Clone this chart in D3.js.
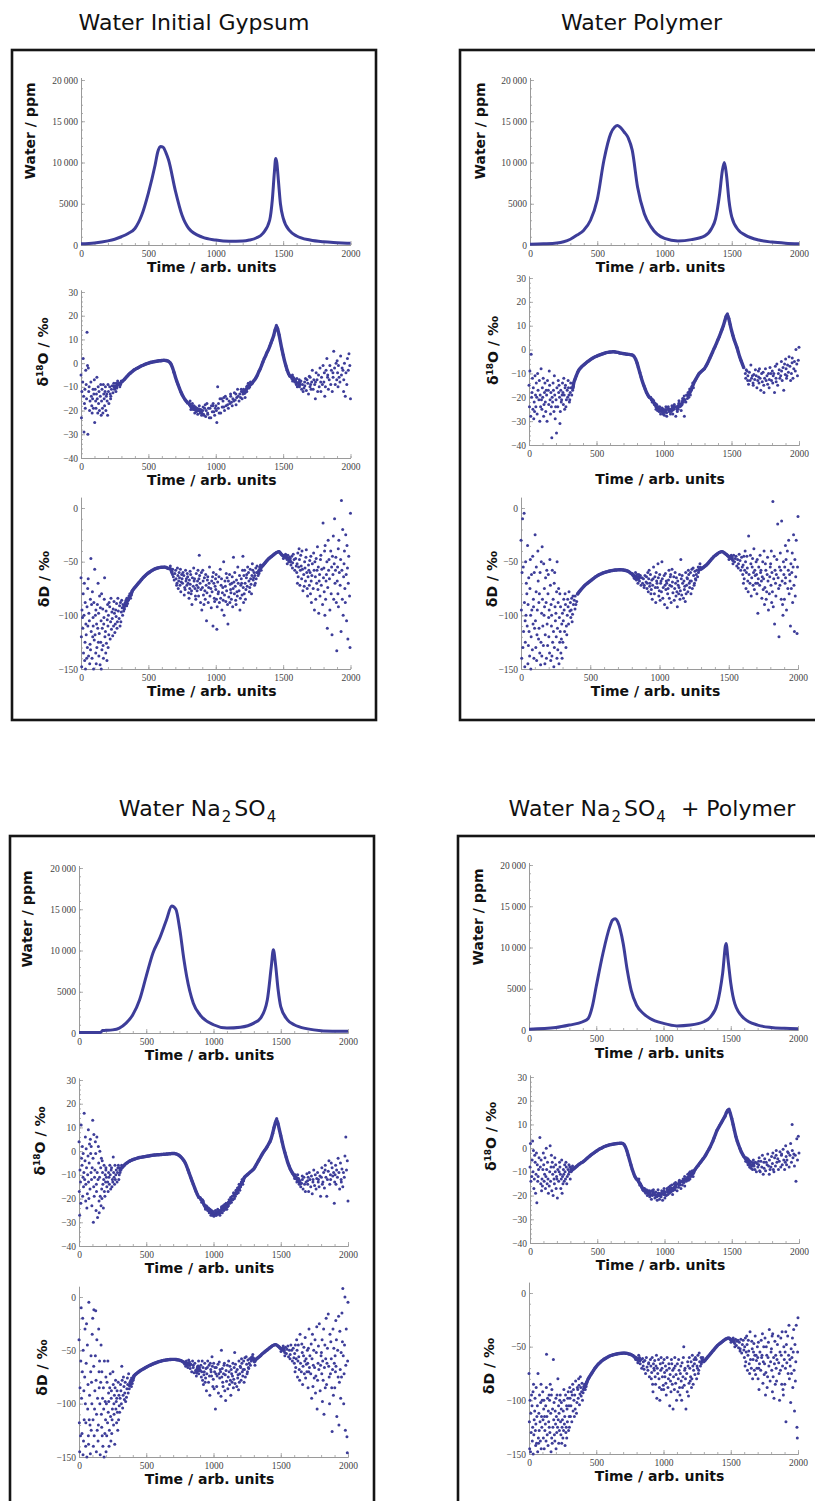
<!DOCTYPE html>
<html>
<head>
<meta charset="utf-8">
<script src="https://cdn.jsdelivr.net/npm/d3@7"></script>
<style>
body { margin: 0; background: #fff; }
</style>
</head>
<body>
<svg id="chart" width="815" height="1501"></svg>
<script>
// tick labels
var timeTicks = [0, 500, 1000, 1500, 2000]
var waterTicks = [0, 5000, 10000, 15000, 20000]
var d18OTicks = [-40, -30, -20, -10, 0, 10, 20, 30]
var dDTicks = [-150, -100, -50, 0]

// water curves, read at irregular times
var waterTimeA = [0,100,200,250,300,350,400,450,500,550,570,590,610,630,650,700,750,800,900,1000,1100,1200,1250,1300,1350,1400,1420,1435,1445,1453,1465,1480,1500,1550,1600,1700,1800,1900,2000]
var waterA = [150,250,500,700,1000,1400,2000,3600,6300,9700,11300,11950,11850,11200,10300,6600,3600,2000,950,600,450,480,600,850,1400,3000,5500,8800,10500,10000,7800,5000,3300,1700,1100,600,380,280,200]
var waterTimeB = [0,100,200,250,300,350,400,450,500,550,600,630,650,670,700,730,760,800,850,900,1000,1100,1200,1300,1350,1380,1410,1430,1445,1460,1480,1500,1550,1600,1700,1800,1900,2000]
var waterB = [100,150,250,400,700,1200,1800,3000,5500,10300,13500,14300,14500,14300,13700,13000,11500,7000,3800,2200,800,500,650,1100,2000,3200,6200,9000,10000,8600,5300,3400,1800,1200,600,350,220,150]
var waterTimeC = [0,100,160,175,200,250,300,350,400,450,500,550,600,650,690,720,750,780,800,850,900,1000,1100,1200,1300,1350,1400,1430,1445,1460,1480,1500,1550,1600,1700,1800,1900,2000]
var waterC = [50,50,60,300,320,380,600,1200,2200,4000,6900,9700,11500,13700,15400,15000,12500,8900,6900,3600,2200,1000,600,700,1200,1800,4000,8100,10100,8500,5300,3200,1600,1000,500,280,220,200]
var waterTimeD = [0,200,300,400,440,470,500,550,600,620,640,660,700,730,760,800,850,900,1000,1100,1200,1300,1350,1400,1440,1465,1480,1500,1530,1600,1700,1800,1900,2000]
var waterD = [100,300,600,1000,1400,2800,5300,9300,12500,13300,13500,13100,10500,7300,4800,3000,2000,1400,800,500,600,1000,1600,3200,6900,10500,8500,5700,3200,1400,600,300,200,150]

// isotope readings, one entry per 10 time units (0..1990); an entry may hold several points
var d18O_A = [
[-5,-23,-12],[2,-14,-8],[-29,-17,-11],[-9,-19,-3],[13,-1,-15],[-30,-2,-12],[-16,-10,-20],[-8,-14,-18],[-11,-21,-15],[-13,-7,-19],
[-25,-11,-16],[-6,-19,-13],[-21,-10,-15],[-17,-12,-20],[-9,-22,-14],[-16,-11,-19],[-13,-21,-9],[-18,-12,-15],[-10,-20,-14],[-22,-13,-16],
[-12,-17,-9],[-15,-10,-13],[-11,-14],[-9.5,-12.5],[-11,-8.5],[-10,-12],[-8.5,-10.5],[-9,-7.5],[-8.5,-10],[-7.5,-9],
-8,-7.5,-7,-6.3,-5.7,-5,-4.5,-4,-3.5,-3,
-2.7,-2.3,-2,-1.7,-1.4,-1.1,-0.9,-0.6,-0.4,-0.2,
0,0.2,0.4,0.5,0.6,0.7,0.8,0.9,1,1,
1.1,1.2,1.2,1.1,1,0.8,0.3,-0.6,-2,-3.8,
-5.8,-7.5,-9,-10.5,-12,-13.2,-14.3,-15.2,-16,-16.8,
[-17.5,-16],[-18,-19.5],[-17,-19],[-19.5,-18],[-18.5,-21],[-20.5,-19],[-19,-21.5],[-18,-20],[-21,-19.5],[-20,-22],
[-18.5,-21.5,-20],[-22,-19],[-20,-17.5,-22.5],[-17,-21],[-21.5,-19],[-19,-23],[-23,-18],[-18,-20.5],[-20.5,-17],[-22,-19],
[-25,-18,-20],[-10,-19],[-17,-21],[-21,-15],[-15,-18.5],[-18.5,-16],[-20,-14.5],[-14,-18],[-17.5,-15],[-19,-16],
[-13,-17],[-16.5,-14],[-18,-15],[-12.5,-16],[-15.5,-13],[-17.5,-14.5],[-14,-11],[-16,-13],[-11,-14.5],[-15,-12],
[-13,-11],[-14.5,-12],[-11.5,-10],[-12,-9.5],[-10.5,-8.5],[-10,-8],-9,-8.5,-7.5,-7,
-6,-5,-3.5,-2.5,-1,0.5,2,3,4.5,5.5,
7,8.5,10,11.5,14,16,14.5,12,9,6,
3.5,1,-1,-3,-4.5,-5.5,[-6.5,-5],[-7.5,-6],[-8,-6.5],[-7,-9],
[-8.5,-6.5,-10],[-9.5,-7],[-10,-8],[-11,-7.5],[-9,-12],[-8,-10.5],[-6.5,-9.5],[-11.5,-7],[-13,-8.5],[-5.5,-10],
[-6,-9,-11],[-3,-8],[-11,-7],[-15,-9],[-4,-8],[-7,-12],[-10,-5],[-2,-8],[-12,-6],[-1,-9],
[-8,-4,-14],[-3,-10],[2,-6],[-5,-11],[-1,-7],[-9,-3],[-4,-12],[5,-6],[-2,-9],[-7,0],
[-4,-10,1],[-1,-6],[3,-8],[-5,-2],[-12,-3],[0,-7],[-14,-4],[2,-9],[-3,4],[-15,-1]
]
var d18O_B = [
[-15,-24,-9],[-2,-20,-28],[-18,-12,-25],[-22,-16,-29],[-11,-19,-26],[-24,-14,-20],[-17,-27,-10],[-21,-13,-30],[-8,-19,-24],[-25,-16,-21],
[-20,-12,-28],[-14,-23,-18],[-26,-17,-22],[-19,-30,-13],[-23,-9,-17],[-15,-21,-27],[-37,-18,-24],[-22,-14,-20],[-17,-26,-11],[-24,-19,-29],
[-35,-16,-21],[-18,-24,-13],[-20,-31,-15],[-26,-17,-22],[-14,-21,-19],[-23,-12,-18],[-19,-25,-16],[-21,-15,-24],[-17,-20,-13],[-22,-16,-19],
[-18,-14,-21],[-16,-19],[-15.5,-17],-14,-12.5,-11,-9.5,-8.5,-7.8,-7.2,
-6.7,-6.2,-5.7,-5.2,-4.8,-4.4,-4,-3.6,-3.3,-3,
-2.8,-2.5,-2.3,-2.1,-1.9,-1.7,-1.5,-1.3,-1.2,-1.1,
-1,-1,-0.9,-0.9,-1,-1.1,-1.2,-1.4,-1.5,-1.6,
-1.7,-1.8,-1.9,-2,-2,-2.1,-2.2,-2.4,-3,-4,
-5.5,-7.5,-9.5,-11.5,-13.5,-15,-16.5,-18,-19,-20,
[-21,-20],[-22,-21],[-23,-21.5],[-22.5,-24],[-25,-23],[-24,-25.5],[-26,-24],[-25,-27],[-24.5,-26],[-27,-25],
[-25.5,-27.5],[-24,-26.5],[-28,-25],[-26,-24],[-25,-27],[-23.5,-26],[-27,-24.5],[-25,-23],[-28,-24],[-24,-26],
[-22.5,-25],[-24,-21.5],[-23,-25.5],[-20.5,-23],[-22,-19.5],[-28,-21],[-19,-22],[-20.5,-18],[-17.5,-20],[-19,-16.5],
[-17,-15.5],[-16,-14],-14,-13,-12,-11,-10,-9.5,-9,-8.5,
-8,-7,-6,-4.8,-3.5,-2.3,-1,0.3,1.5,2.8,
4.2,5.5,7,8.5,10,12,14,15,13,10.5,
8,6,4,2.5,1,-1,-3,-4.5,-6,-7.5,
[-8.5,-10,-12],[-9,-13],[-11,-14.5],[-13,-9.5],[-6.5,-12],[-14,-11],[-10.5,-15],[-12.5,-8.5],[-16,-11],[-13,-9],
[-11.5,-14,-8],[-17,-12],[-10,-13.5],[-15,-9.5],[-12,-18],[-8,-13],[-14.5,-11],[-10,-16],[-12.5,-7.5],[-13,-10],
[-9,-14,-11],[-18,-10],[-7,-12],[-13.5,-6],[-10,-15],[-8.5,-12],[-5,-11],[-13,-9],[-7.5,-17],[-10.5,-6],
[-8,-12,-4],[-11,-6.5],[-3,-9.5],[-7,-13],[-5.5,-10],[-12,-3.5],[-8,-5],[0,-9],[-6,-11],[1,-4.5]
]
var d18O_C = [
[4,-17,-27,-8],[11,-3,-13,-22],[-6,2,-19,-11],[16,-1,-15,-9],[-4,6,-21,-12],[-14,1,-7,-24],[-2,9,-18,-10],[-20,-5,3,-13],[-9,-16,5,-1],[-23,-7,2,-12],
[13,-3,-30,-15],[-8,7,-19,-11],[-1,-25,-14,4],[-17,6,-9,-28],[-5,-21,-12,2],[-11,0,-19,-26],[-16,-7,-23,-3],[-9,-14,-20,-4],[-24,-12,-6,-17],[-13,-8,-19,-10],
[-11,-15,-7],[-9,-13,-17],[-14,-6,-11],[-10,-16,-8],[-12,-7,-15],[-2.5,-9,-13],[-11,-14,-6],[-8,-12,-10],[-13,-9,-7],[-10,-6,-12],
[-9,-7],[-8,-6],-7,-6.3,-5.7,-5.2,-4.8,-4.4,-4.1,-3.8,
-3.6,-3.4,-3.2,-3,-2.8,-2.7,-2.6,-2.5,-2.4,-2.3,
-2.2,-2.1,-2,-1.9,-1.8,-1.7,-1.6,-1.6,-1.5,-1.5,
-1.5,-1.4,-1.4,-1.3,-1.3,-1.2,-1.2,-1.1,-1.1,-1,
-1,-1,-1.1,-1.3,-1.6,-2,-2.6,-3.2,-4,-5,
-6.3,-7.8,-9.4,-11,-12.5,-14,-15.5,-17,-18.3,-19.5,
[-20.5,-19.5],[-21.5,-20.5],[-22.5,-21],[-23,-24],[-24.5,-23],[-25,-23.5],[-24,-26],[-26,-24.5],[-25,-27],[-27,-25.5],
[-26,-27.5],[-25,-27],[-27,-25.5],[-26.5,-24.5],[-25,-27],[-24,-26],[-26,-23.5],[-23,-25],[-24.5,-22.5],[-22,-24.5],
[-21.5,-23.5],[-20.5,-23],[-22,-19.5],[-19,-21.5],[-20.5,-17.5],[-18,-20],[-16.5,-19],[-18,-15.5],[-15,-17.5],[-16.5,-14],
[-15,-13],[-14,-12],[-12.5,-11],-11,-10.5,-10,-9.5,-9,-8.5,-8,
-7.5,-6.5,-5.5,-4.5,-3.5,-2.5,-1.5,-0.5,0.3,1,
2,3,4,5.5,7.5,10,12,13.8,11.5,9,
6.5,4,1.5,-0.5,-2.5,-4.5,-6,-7.5,-8.5,-9.5,
[-10,-11.5],[-11,-13],[-12,-10],[-14,-11.5],[-12.5,-15],[-10.5,-13.5],[-16,-12],[-11,-14],[-13,-17],[-9.5,-12.5],
[-14,-11,-17],[-12,-9],[-15,-10.5],[-13,-18],[-8,-12],[-14.5,-10],[-11.5,-16],[-9,-13],[-12,-15],[-19,-10.5],
[-11,-7,-14],[-9,-13],[-15.5,-8],[-6,-11],[-12,-19],[-8.5,-4],[-10,-14],[-5,-12],[-7,-10.5],[-22,-9],
[-10,-6,-13],[-14,-8],[-3,-11],[-9,-16],[-12,-5],[-7.5,-13],[-15,-9],[-2,-11],[6,-8],[-21,-4]
]
var d18O_D = [
[-8,2,-14],[-5,3,-12],[-10,-1,-17],[-6,-13,-3],[-11,-2,-19],[-23,-7,-14],[-4,-12,-9],[4.5,-8,-15],[-13,-5,-18],[-9,-2,-16],
[-7,-14,-11],[-12,-4,-17],[-9,-15,0],[-6,-13,-19],[-10,1,-16],[-14,-8,-3],[-11,-18,-6],[-8,-13,-20],[-15,-4,-10],[-12,-7,-17],
[-21,-9,-13],[-6,-14,-10],[-11,-17,-8],[-13,-5,-19],[-9,-12,-15],[-14,-7,-11],[-10,-13,-6],[-12,-8,-15],[-9,-11,-7],[-13,-10,-8],
[-10,-8],[-9.5,-7.5],-9,-8.5,-8,-7.5,-7,-6.6,-6.2,-5.9,
-5.5,-5,-4.5,-4,-3.5,-3,-2.6,-2.2,-1.8,-1.4,
-1,-0.6,-0.3,0,0.3,0.6,0.8,1,1.2,1.4,
1.5,1.6,1.7,1.8,1.9,2,2,2.1,2.1,2,
1.5,0.5,-1,-3,-5,-7,-9,-10.5,-12,-13,
[-14,-13],[-14.5,-15.5],[-16,-15],[-16.5,-17.5],[-17,-18],[-18.5,-17],[-19,-17.5],[-18,-20],[-19.5,-18],[-20.5,-18.5],
[-18,-20,-21.5],[-19.5,-17.5],[-21,-19],[-18.5,-20.5],[-20,-22],[-19,-17.5],[-21.5,-19.5],[-18,-20.5],[-22,-19],[-19.5,-17],
[-18.5,-21],[-20,-17],[-17.5,-19.5],[-19,-16.5],[-16,-18.5],[-18,-15.5],[-17,-19.5],[-15,-17.5],[-16.5,-14.5],[-18,-15],
[-14,-16.5],[-15.5,-13.5],[-17,-14],[-13,-15.5],[-14.5,-12],[-16,-13],[-12.5,-14],[-11,-13.5],[-13,-10.5],[-12,-10],
[-11.5,-9.5],[-10,-12],-9.5,-8.8,-8,-7.3,-6.5,-5.8,-5,-4.3,
-3.5,-2.5,-1.5,-0.5,0.5,1.8,3,4.5,6,7.5,
8.5,9.5,10.5,11.5,12.5,13.5,15,16,16.5,14.5,
12.5,10,7.5,5,3,1.5,0,-1.5,-2.5,-3.5,
[-4,-5.5],[-6,-4.5],[-7,-5],[-5.5,-8],[-8.5,-6],[-6.5,-9],[-7.5,-5],[-9,-6],[-6.5,-10],[-8,-5.5],
[-7,-4,-9.5],[-5.5,-10],[-8,-3],[-6,-11],[-4.5,-8.5],[-9.5,-6],[-2.5,-7],[-7.5,-11],[-5,-9],[-3.5,-8],
[-6.5,-2,-9],[-4,-10],[-7.5,-3],[-1,-6],[-9,-4.5],[-5.5,-1.5],[-3,-8],[-7,-2.5],[-0.5,-5],[-6,-9],
[-3.5,-7,1],[-5,-1.5],[-8,-2],[-3,2],[10,-6],[-4,-1],[-2.5,-7.5],[-14,-3],[4,-5],[-2,5]
]
var dD_A = [
[-65,-120,-148,-95],[-80,-135,-102,-112],[-100,-70,-142,-125],[-118,-88,-150,-108],[-92,-130,-75,-140],[-110,-66,-138,-98],[-127,-85,-105,-145],[-47,-115,-90,-132],[-102,-140,-78,-120],[-88,-123,-110,-150],
[-57,-118,-100,-135],[-130,-95,-145,-108],[-112,-70,-125,-90],[-98,-138,-117,-82],[-125,-105,-146,-93],[-80,-132,-112,-150],[-108,-94,-128,-140],[-65,-120,-102,-85],[-115,-135,-96,-126],[-90,-110,-142,-104],
[-100,-118,-88,-130],[-106,-92,-122],[-113,-97,-84],[-103,-119,-94],[-98,-110,-87],[-108,-95,-116],[-101,-89,-112],[-96,-106,-84],[-103,-91,-110],[-97,-88,-106],
[-93,-100,-86],[-90,-96],[-88,-94],[-86,-91],[-84,-89],[-82,-86],[-80,-84],[-78,-81],-77,-75.5,
-74,-72.5,-71,-69.5,-68,-66.5,-65,-63.8,-62.6,-61.5,
-60.5,-59.6,-58.8,-58,-57.3,-56.7,-56.2,-55.8,-55.5,-55.3,
-55.2,-55.1,-55,-55.3,-55.8,-56.5,[-57.5,-54],[-59,-62],[-57,-64],[-61,-67],
[-58,-66,-72],[-63,-70,-56],[-68,-60,-75],[-65,-72,-57],[-62,-78,-69],[-70,-60,-66],[-74,-63,-81],[-58,-68,-76],[-66,-72,-61],[-79,-64,-70],
[-67,-75,-59,-84],[-71,-62,-80],[-65,-77,-90],[-73,-56,-68],[-82,-66,-75],[-61,-72,-85],[-77,-68,-58],[-44,-74,-82,-66],[-70,-88,-63],[-76,-60,-95],
[-68,-81,-74,-58],[-90,-65,-77],[-72,-85,-62],[-79,-67,-105],[-64,-88,-74],[-82,-70,-55],[-75,-93,-68],[-110,-78,-64],[-70,-84,-60],[-87,-73,-66],
[-113,-76,-62,-85],[-69,-80,-92],[-78,-64,-88],[-84,-72,-57],[-66,-95,-79],[-50,-74,-86],[-81,-68,-100],[-73,-87,-61],[-90,-77,-65],[-68,-83,-108],
[-76,-62,-88,-71],[-85,-70,-79],[-64,-92,-75],[-80,-46,-69],[-73,-86,-60],[-90,-67,-78],[-70,-82,-55],[-77,-63,-95],[-66,-84,-72],[-81,-58,-70],
[-45,-74,-88,-63],[-70,-80,-58],[-76,-65,-85],[-62,-73,-55],[-68,-78,-60],[-74,-57,-66],[-63,-71,-80],[-58,-67,-52],[-65,-60,-72],[-56,-63,-70],
[-60,-54,-66],[-58,-63],[-55,-61],[-53,-58],-55,-53.5,-52,-50.5,-49,-47.5,
-46.5,-45.5,-44.5,-43.5,-42.5,-41.5,-41,-40.5,-42,-43.5,
[-44,-47],[-46,-43],[-48,-45],[-44,-52],[-50,-46],[-53,-47],[-45,-56],[-51,-43],[-58,-48],[-47,-54],
[-42,-60,-52,-70],[-55,-38,-64],[-48,-72,-58],[-66,-44,-54],[-57,-77,-40],[-50,-62,-73],[-68,-46,-56],[-39,-60,-75],[-53,-82,-64],[-72,-49,-58],
[-60,-80,-45,-68],[-52,-88,-63],[-75,-42,-58],[-64,-95,-50],[-47,-70,-85],[-58,-36,-76],[-68,-55,-98],[-82,-48,-62],[-44,-72,-57],[-14,-65,-90],
[-56,-78,-40,-100],[-68,-35,-85],[-50,-112,-62],[-74,-30,-58],[-95,-48,-66],[-40,-80,-55],[-62,-118,-45],[-85,-52,-26],[-10,-70,-58],[-133,-46,-88],
[-55,-80,-38,-68],[-92,-30,-60],[-48,-115,-72],[7,-58,-85],[-64,-20,-100],[-40,-75,-52],[-88,-25,-62],[-56,-105,-35],[-70,-45,-122],[-5,-82,-130]
]
var dD_B = [
[-30,-95,-140,-60],[-55,-115,-10,-130],[-5,-88,-148,-105],[-70,-125,-50,-100],[-110,-35,-145,-80],[-90,-128,-65,-115],[-48,-100,-138,-75],[-120,-62,-95,-150],[-85,-132,-45,-108],[-60,-112,-92,-140],
[-25,-105,-130,-78],[-95,-55,-142,-118],[-68,-122,-88,-40],[-112,-80,-135,-60],[-50,-98,-146,-125],[-36,-85,-110,-138],[-75,-128,-52,-100],[-118,-65,-92,-145],[-88,-140,-58,-108],[-62,-102,-128,-80],
[-95,-135,-48,-120],[-110,-72,-142,-90],[-58,-125,-100,-138],[-85,-115,-148,-70],[-105,-130,-60,-92],[-120,-78,-140,-98],[-50,-112,-132,-88],[-102,-125,-75,-145],[-115,-92,-135,-80],[-98,-122,-108,-140],
[-105,-85,-125],[-95,-115,-80],[-110,-90,-130],[-100,-85,-118],[-92,-108,-78],[-88,-102,-96],[-95,-84,-106],[-90,-99,-82],[-86,-94],[-82,-90],
[-80,-87],-80,-78,-76.5,-75,-73.5,-72.2,-71,-70,-69,
-68,-67,-66,-65,-64,-63.2,-62.5,-61.8,-61.2,-60.6,
-60.2,-59.8,-59.4,-59,-58.7,-58.4,-58.2,-58,-57.8,-57.7,
-57.6,-57.5,-57.5,-57.6,-57.8,-58,-58.3,-58.8,-59.5,-60.5,
[-61,-63],[-62,-65],[-60,-66],[-67,-62],[-64,-70],[-68,-62],[-63,-72],[-70,-65],[-66,-74],[-72,-63],
[-64,-75,-69],[-70,-60,-78],[-73,-66,-58],[-62,-80,-70],[-76,-67,-85],[-55,-72,-66],[-80,-64,-74],[-68,-88,-60],[-74,-52,-70],[-65,-82,-77],
[-70,-62,-86],[-78,-50,-68],[-66,-84,-74],[-90,-72,-63],[-61,-76,-68],[-80,-70,-93],[-67,-58,-75],[-84,-72,-64],[-73,-62,-88],[-69,-79,-57],
[-75,-64,-86],[-70,-82,-60],[-65,-78,-92],[-80,-68,-72],[-62,-85,-74],[-77,-48,-66],[-70,-81,-63],[-84,-68,-76],[-60,-73,-87],[-72,-65,-80],
[-66,-78,-58],[-74,-62,-70],[-60,-80,-68],[-68,-57,-75],[-63,-72,-56],[-70,-59,-66],[-58,-67,-62],[-64,-55],[-60,-56],[-57,-52],
-57,-56,-55,-54,-53,-51.5,-50,-48.5,-47,-45.5,
-44.5,-43.5,-42.5,-41.5,-41,-40.5,-41,-42,-43,-44,
[-45,-48],[-47,-44],[-49,-46],[-44,-52],[-50,-47],[-54,-45],[-48,-56],[-52,-43],[-58,-49],[-46,-55],
[-45,-62,-53,-70],[-58,-40,-66],[-50,-75,-60],[-68,-45,-56],[-26,-62,-78],[-52,-70,-44],[-65,-55,-82],[-47,-72,-60],[-58,-38,-76],[-70,-50,-63],
[-62,-80,-48,-70],[-55,-98,-66],[-72,-44,-60],[-84,-58,-68],[-50,-76,-64],[-66,-40,-90],[-58,-74,-52],[-78,-62,-85],[-46,-68,-95],[-64,-55,-80],
[-52,-72,-40,-88],[6,-60,-78],[-66,-45,-92],[-108,-58,-70],[-48,-82,-62],[-15,-65,-75],[-72,-120,-55],[-58,-85,-42],[-12,-68,-90],[-62,-100,-50],
[-55,-70,-35,-85],[-65,-48,-95],[-75,-58,-40],[-30,-80,-62],[-52,-68,-110],[-60,-42,-75],[-88,-55,-25],[-48,-72,-115],[-64,-30,-82],[-8,-117,-55]
]
var dD_C = [
[-40,-118,-145,-85],[-10,-95,-130,-60],[-128,-70,-20,-148],[-115,-50,-135,-88],[-30,-100,-140,-75],[-118,-62,-25,-150],[-82,-130,-45,-105],[-5,-115,-92,-138],[-55,-120,-147,-70],[-100,-35,-125,-80],
[-20,-115,-140,-65],[-88,-12,-130,-105],[-13,-78,-145,-55],[-110,-40,-125,-95],[-30,-70,-135,-120],[-60,-100,-148,-85],[-122,-80,-45,-110],[-95,-140,-70,-130],[-85,-105,-150,-60],[-115,-75,-128,-98],
[-100,-130,-80,-145],[-90,-118,-60,-108],[-125,-85,-98,-140],[-72,-112,-135,-95],[-105,-88,-128,-115],[-82,-120,-100,-70],[-110,-92,-138,-85],[-98,-118,-78,-105],[-88,-108,-125,-95],[-102,-80,-115,-92],
[-95,-82,-108],[-88,-100,-65],[-92,-78,-104],[-84,-96,-75],[-90,-80,-98],[-86,-76,-94],[-82,-90,-72],[-80,-86],[-78,-84],[-76,-81],
[-74,-78],-73.5,-72.5,-71.5,-70.5,-69.5,-68.7,-68,-67.2,-66.5,
-65.8,-65.1,-64.5,-63.9,-63.3,-62.7,-62.2,-61.7,-61.2,-60.8,
-60.4,-60,-59.7,-59.4,-59.2,-59,-58.8,-58.7,-58.6,-58.5,
-58.5,-58.5,-58.6,-58.8,-59,-59.3,-59.8,-60.5,[-61,-63],[-60,-65],
[-62,-66],[-64,-59],[-67,-61],[-63,-70],[-66,-60],[-71,-64],[-62,-69],[-68,-74],[-65,-60],[-72,-66],
[-64,-75,-69],[-70,-60,-78],[-73,-66,-82],[-62,-80,-70],[-76,-67,-88],[-60,-72,-66],[-80,-64,-74],[-68,-92,-62],[-74,-56,-70],[-65,-84,-77],
[-70,-62,-86],[-105,-72,-66],[-66,-84,-74],[-90,-72,-63],[-61,-76,-68],[-50,-70,-93],[-67,-80,-75],[-84,-72,-64],[-73,-62,-88],[-69,-79,-97],
[-75,-64,-86],[-70,-82,-60],[-65,-78,-92],[-80,-68,-72],[-62,-85,-74],[-77,-66,-52],[-70,-81,-63],[-84,-68,-76],[-60,-73,-87],[-72,-65,-80],
[-66,-78,-58],[-74,-62,-70],[-60,-80,-68],[-68,-57,-75],[-63,-72,-56],[-70,-59,-66],[-58,-67,-62],[-64,-57],[-60,-56],[-58,-54],
[-60,-64],-59,-58,-57,-56,-55,-53.5,-52.5,-51.5,-50.5,
-49.5,-48.5,-47.5,-46.5,-45.5,-45,-44.5,-45,-46,-47,
[-48,-51],[-50,-46],[-52,-48],[-47,-55],[-53,-49],[-56,-46],[-50,-58],[-54,-45],[-60,-50],[-48,-57],
[-45,-62,-53,-70],[-58,-40,-66],[-50,-75,-60],[-68,-45,-56],[-35,-62,-78],[-52,-70,-44],[-65,-55,-82],[-47,-72,-60],[-58,-38,-76],[-70,-50,-63],
[-62,-85,-48,-70],[-55,-30,-66],[-72,-44,-95],[-84,-58,-35],[-50,-76,-64],[-66,-40,-90],[-28,-74,-52],[-78,-62,-105],[-46,-68,-25],[-64,-55,-88],
[-52,-72,-40,-98],[-30,-60,-78],[-66,-45,-110],[-85,-58,-20],[-48,-82,-62],[-16,-65,-75],[-72,-100,-35],[-58,-85,-42],[-126,-68,-30],[-62,-92,-48],
[-55,-70,-22,-85],[-65,-40,-112],[-75,-18,-50],[-120,-80,-32],[-52,-68,-95],[-15,-42,-75],[8,-55,-100],[0,-72,-45],[-64,-30,-125],[-5,-131,-146,-60]
]
var dD_D = [
[-75,-120,-145,-100],[-130,-95,-148,-112],[-105,-138,-125,-92],[-118,-150,-85,-132],[-98,-128,-142,-110],[-122,-88,-140,-115],[-75,-135,-105,-148],[-112,-128,-95,-140],[-85,-120,-138,-102],[-125,-100,-145,-115],
[-92,-118,-135,-108],[-128,-100,-145,-115],[-105,-138,-88,-122],[-57,-115,-132,-98],[-120,-95,-142,-110],[-100,-130,-85,-125],[-135,-112,-148,-95],[-108,-125,-90,-140],[-62,-118,-102,-132],[-122,-98,-138,-110],
[-115,-130,-95,-145],[-105,-125,-80,-118],[-128,-100,-140,-112],[-95,-120,-132,-108],[-118,-102,-140,-125],[-110,-128,-90,-135],[-100,-122,-115,-142],[-125,-105,-95,-130],[-108,-120,-98,-135],[-115,-92,-128,-105],
[-98,-115,-125,-88],[-105,-92,-120],[-110,-95,-85],[-100,-115,-90],[-95,-108,-82],[-102,-88,-112],[-90,-98,-80],[-94,-86,-104],[-88,-96,-78],[-92,-84,-100],
[-87,-93],[-85,-90],[-83,-87],-83,-80,-78,-76,-74,-72,-70,
-68.5,-67,-65.7,-64.5,-63.4,-62.4,-61.5,-60.7,-60,-59.3,
-58.7,-58.2,-57.8,-57.4,-57.1,-56.8,-56.6,-56.4,-56.2,-56.1,
-56,-56,-56.1,-56.3,-56.6,-57,-57.5,-58,-59,[-60,-62],
[-61,-65],[-63,-58],[-66,-60],[-62,-70],[-68,-61],[-71,-64],[-63,-75],[-69,-60],[-72,-66],[-65,-78],
[-68,-80,-62],[-74,-60,-85],[-70,-92,-66],[-63,-78,-72],[-85,-68,-58],[-75,-98,-70],[-62,-80,-88],[-72,-100,-66],[-90,-70,-60],[-78,-65,-86],
[-74,-90,-62],[-68,-84,-78],[-95,-72,-60],[-80,-66,-88],[-70,-105,-76],[-62,-82,-92],[-85,-72,-66],[-108,-78,-70],[-68,-90,-60],[-76,-100,-84],
[-80,-66,-92],[-72,-88,-62],[-95,-75,-68],[-65,-82,-100],[-78,-60,-88],[-50,-86,-72],[-108,-70,-80],[-75,-92,-64],[-84,-68,-96],[-70,-82,-60],
[-78,-64,-88],[-68,-80,-58],[-72,-62,-85],[-66,-76,-60],[-80,-68,-62],[-70,-58,-75],[-64,-72,-56],[-68,-60],[-66,-62],[-64,-60],
-64,-62.5,-61,-59.5,-58,-56.5,-55,-53.5,-52,-50.5,
-49,-48,-47,-46,-45,-44,-43,-42.5,-42,-42,
[-43,-46],[-45,-42],[-47,-44],[-43,-50],[-49,-45],[-51,-44],[-46,-54],[-52,-43],[-48,-56],[-44,-53],
[-42,-60,-50,-68],[-55,-40,-64],[-48,-72,-58],[-66,-44,-54],[-36,-62,-75],[-52,-70,-45],[-62,-55,-80],[-47,-72,-58],[-58,-40,-76],[-70,-50,-63],
[-60,-80,-46,-70],[-55,-90,-66],[-72,-44,-60],[-84,-58,-38],[-50,-76,-64],[-66,-42,-95],[-58,-74,-50],[-78,-60,-88],[-46,-68,-34],[-64,-55,-82],
[-52,-72,-40,-92],[-60,-38,-78],[-66,-45,-98],[-85,-58,-70],[-48,-82,-62],[-40,-65,-75],[-72,-100,-55],[-58,-85,-42],[-36,-68,-90],[-62,-95,-50],
[-55,-70,-36,-85],[-120,-48,-65],[-75,-58,-40],[-30,-80,-62],[-52,-68,-102],[-60,-42,-75],[-88,-55,-34],[-48,-72,-110],[-64,-30,-82],[-23,-125,-135,-55]
]

var svg = d3.select("#chart")
var blue = "#3d3d99"
var sans = "'DejaVu Sans', Verdana, sans-serif"
var serif = "'Liberation Serif', 'Times New Roman', serif"

function fmt(v) {
	var s = String(Math.abs(v))
	if (Math.abs(v) >= 10000) { s = s.slice(0, -3) + "\u2009" + s.slice(-3) }
	return (v < 0 ? "\u2212" : "") + s
}

// place the several readings of one 10-unit step inside that step,
// shifted from step to step so they do not line up in columns
function expand(values) {
	var pts = []
	values.forEach(function(v, i) {
		var ys = Array.isArray(v) ? v : [v]
		ys.forEach(function(y, j) {
			var off = ys.length == 1 ? 0 : ((i * 0.618 + j / ys.length) % 1) * 10
			pts.push({ t : i * 10 + off, v : y })
		})
	})
	return pts
}

// where the readings of a step lie close together (within maxGap px) they form a dense band
function runs(values, y, maxGap) {
	var out = [], cur = []
	values.forEach(function(v, i) {
		var ys = Array.isArray(v) ? v : [v]
		var ext = d3.extent(ys)
		if (ys.length > 2 || Math.abs(y(ext[0]) - y(ext[1])) > maxGap) {
			if (cur.length > 1) { out.push(cur) }
			cur = []
		} else {
			cur.push({ t : i * 10 + (ys.length == 1 ? 0 : 5), v : d3.mean(ys) })
		}
	})
	if (cur.length > 1) { out.push(cur) }
	return out
}

function addText(parent, parts, size, weight) {
	var t = parent.append("text").attr("font-family", sans).attr("font-size", size)
			.attr("font-weight", weight).attr("fill", "#111")
	parts.forEach(function(p) {
		t.append("tspan").attr("dy", p.dy || 0).attr("dx", p.dx || 0)
				.attr("font-size", p.size || size).text(p.text)
	})
	return t
}

var kinds = {
	water : { min : 0, max : 20000, top : 20300, ticks : waterTicks, minor : 1000,
		label : [ { text : "Water / ppm" } ] },
	d18O : { min : -40, max : 30, top : 30.8, ticks : d18OTicks, minor : 2,
		label : [ { text : "\u03b4" }, { text : "18", size : 9, dy : -5 }, { text : "O / \u2030", dy : 5 } ] },
	dD : { min : -150, max : 0, top : 10, ticks : dDTicks, minor : 10,
		label : [ { text : "\u03b4D / \u2030" } ] }
}

function subplot(s, kind) {
	// s: x0, x1, y of min tick, y of max tick, y-label x, y-label y, x-title baseline
	var x = d3.scaleLinear().domain([ 0, 2000 ]).range([ s[0], s[1] ])
	var y = d3.scaleLinear().domain([ kind.min, kind.max ]).range([ s[2], s[3] ])
	var yTop = y(kind.top)
	y.domain([ kind.min, kind.top ]).range([ s[2], yTop ])

	var g = svg.append("g")
	g.append("g").attr("transform", "translate(0," + s[2] + ")")
			.call(d3.axisBottom(x).tickValues(d3.range(0, 2001, 100)).tickSize(-2).tickSizeOuter(0).tickFormat(""))
	g.append("g").attr("transform", "translate(0," + s[2] + ")")
			.call(d3.axisBottom(x).tickValues(timeTicks).tickSize(-4).tickSizeOuter(0).tickPadding(5.5).tickFormat(fmt))
	g.append("g").attr("transform", "translate(" + s[0] + ",0)")
			.call(d3.axisLeft(y).tickValues(d3.range(kind.min, kind.max + 1, kind.minor)).tickSize(-2).tickSizeOuter(0).tickFormat(""))
	g.append("g").attr("transform", "translate(" + s[0] + ",0)")
			.call(d3.axisLeft(y).tickValues(kind.ticks).tickSize(-4).tickSizeOuter(0).tickPadding(3).tickFormat(fmt))
	g.selectAll(".domain").attr("stroke", "#9a9a9a").attr("stroke-width", 1)
	g.selectAll(".tick line").attr("stroke", "#9a9a9a").attr("stroke-width", 0.8)
	g.selectAll(".tick text").attr("font-family", serif).attr("font-size", 9.5).attr("fill", "#444")

	addText(svg, [ { text : "Time / arb. units" } ], 14, "bold")
			.attr("x", (s[0] + s[1]) / 2 - 4).attr("y", s[6]).attr("text-anchor", "middle")
	addText(svg, kind.label, 14, "bold").attr("text-anchor", "middle")
			.attr("y", 5).attr("transform", "translate(" + s[4] + "," + s[5] + ") rotate(-90)")
	return { x : x, y : y, g : g }
}

function lineOf(p, curve) {
	return d3.line().x(function(d) { return p.x(d.t) }).y(function(d) { return p.y(d.v) }).curve(curve)
}

function drawLine(p, times, values) {
	var pts = times.map(function(t, i) { return { t : t, v : values[i] } })
	p.g.append("path").datum(pts).attr("fill", "none").attr("stroke", blue)
			.attr("stroke-width", 3).attr("stroke-linejoin", "round")
			.attr("d", lineOf(p, d3.curveMonotoneX))
}

function drawPoints(p, values) {
	p.g.selectAll("path.band").data(runs(values, p.y, 7)).enter().append("path").attr("class", "band")
			.attr("fill", "none").attr("stroke", blue).attr("stroke-width", 3.4)
			.attr("stroke-linecap", "round").attr("stroke-linejoin", "round")
			.attr("d", lineOf(p, d3.curveBasis))
	p.g.selectAll("circle.pt").data(expand(values)).enter().append("circle")
			.attr("class", "pt").attr("cx", function(d) { return p.x(d.t) })
			.attr("cy", function(d) { return p.y(d.v) }).attr("r", 1.5).attr("fill", blue)
}

var panels = [
	{ title : [ { text : "Water Initial Gypsum" } ], cx : 194, ty : 30, box : [ 12, 50, 364, 670 ],
		water : [ waterTimeA, waterA ], d18O : d18O_A, dD : dD_A,
		subs : [ [ 81, 350.5, 245, 80, 30, 131, 272 ], [ 81, 350.5, 458, 292, 43, 352, 485 ], [ 81, 350.5, 669, 508, 43.5, 579, 696 ] ] },
	{ title : [ { text : "Water Polymer" } ], cx : 641.5, ty : 30, box : [ 460, 50, 400, 670 ],
		water : [ waterTimeB, waterB ], d18O : d18O_B, dD : dD_B,
		subs : [ [ 530, 799, 245, 80, 480, 131, 272 ], [ 529, 799, 445, 278, 492.5, 350.5, 484 ], [ 521, 798, 669, 508, 492, 579, 696 ] ] },
	{ title : [ { text : "Water Na" }, { text : "2", size : 15, dy : 6, dx : 1 }, { text : "SO", dy : -6, dx : 3 }, { text : "4", size : 15, dy : 6, dx : 1 } ],
		cx : 197.5, ty : 816, box : [ 10, 836, 364, 720 ],
		water : [ waterTimeC, waterC ], d18O : d18O_C, dD : dD_C,
		subs : [ [ 79, 348, 1033, 868, 27, 919, 1060 ], [ 79, 348, 1246, 1080, 40, 1141, 1273 ], [ 79, 348, 1457, 1297, 42, 1367.5, 1484 ] ] },
	{ title : [ { text : "Water Na" }, { text : "2", size : 15, dy : 6, dx : 1 }, { text : "SO", dy : -6, dx : 3 }, { text : "4", size : 15, dy : 6, dx : 1 },
			{ text : "+ Polymer", dy : -6, dx : 15 } ],
		cx : 652, ty : 816, box : [ 458, 836, 400, 720 ],
		water : [ waterTimeD, waterD ], d18O : d18O_D, dD : dD_D,
		subs : [ [ 529, 798, 1030, 865, 477.5, 917, 1058 ], [ 530, 799, 1243, 1077, 491, 1136.5, 1270 ], [ 529, 798, 1454, 1293, 489, 1366, 1481 ] ] }
]

panels.forEach(function(pn) {
	svg.append("rect").attr("x", pn.box[0]).attr("y", pn.box[1]).attr("width", pn.box[2])
			.attr("height", pn.box[3]).attr("fill", "none").attr("stroke", "#151515").attr("stroke-width", 2.6)
	addText(svg, pn.title, 22, "normal").attr("x", pn.cx).attr("y", pn.ty).attr("text-anchor", "middle")
	var p1 = subplot(pn.subs[0], kinds.water)
	drawLine(p1, pn.water[0], pn.water[1])
	var p2 = subplot(pn.subs[1], kinds.d18O)
	drawPoints(p2, pn.d18O)
	var p3 = subplot(pn.subs[2], kinds.dD)
	drawPoints(p3, pn.dD)
})
</script>
</body>
</html>
